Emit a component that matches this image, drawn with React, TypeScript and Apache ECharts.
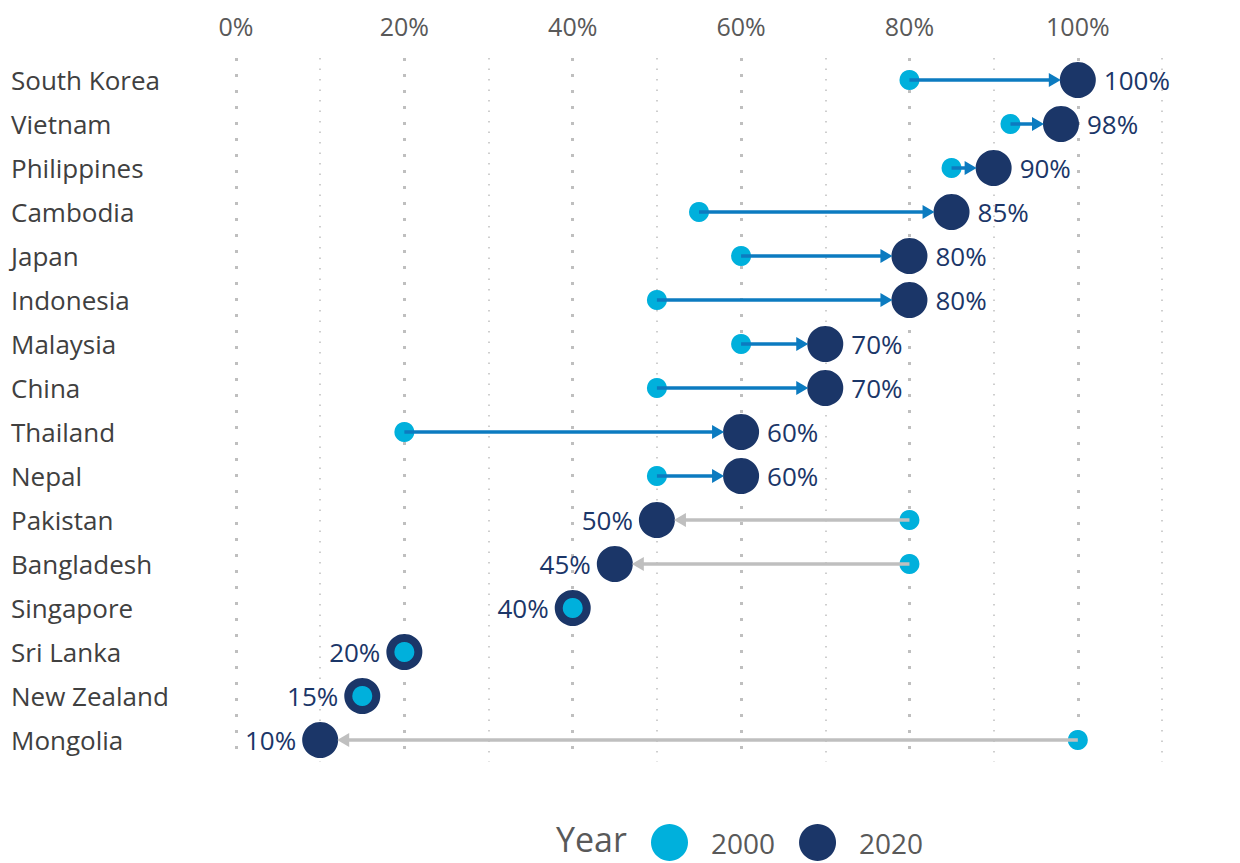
import React, { useEffect, useRef } from "react";
import * as echarts from "echarts";

const countries = [
  "South Korea", "Vietnam", "Philippines", "Cambodia", "Japan", "Indonesia",
  "Malaysia", "China", "Thailand", "Nepal", "Pakistan", "Bangladesh",
  "Singapore", "Sri Lanka", "New Zealand", "Mongolia",
];
const values2000 = [80, 92, 85, 55, 60, 50, 60, 50, 20, 50, 80, 80, 40, 20, 15, 100];
const values2020 = [100, 98, 90, 85, 80, 80, 70, 70, 60, 60, 50, 45, 40, 20, 15, 10];
const xTickLabels = [0, 20, 40, 60, 80, 100];
const years = ["2000", "2020"];

const CYAN = "#00B0DC";
const NAVY = "#1B3668";
const BLUE = "#0C7BC0";
const GRAY = "#BFBFBF";
const FONT = "Open Sans";

export default function App() {
  const ref = useRef<HTMLDivElement>(null);
  useEffect(() => {
    if (!ref.current) return;
    const chart = echarts.init(ref.current, undefined, { renderer: "svg" });
    const option: any = {
      animation: false,
      textStyle: { fontFamily: FONT },
      grid: { left: 236, right: 78, top: 58, height: 704, outerBoundsMode: "none" },
      title: {
        text: "Year",
        left: 556,
        top: 825,
        padding: 0,
        textStyle: {
          fontSize: 34,
          lineHeight: 28,
          fontWeight: "normal",
          color: "#595959",
          fontFamily: FONT,
        },
      },
      legend: {
        data: years,
        left: 651,
        top: 824,
        padding: 0,
        itemWidth: 37,
        itemHeight: 37,
        itemGap: 24,
        selectedMode: false,
        icon: "circle",
        textStyle: {
          fontSize: 28,
          lineHeight: 24,
          color: "#595959",
          fontFamily: FONT,
          padding: [0, 0, 0, 18],
        },
      },
      xAxis: [
        {
          type: "value",
          position: "top",
          min: 0,
          max: 110,
          interval: 10,
          axisLine: { show: false },
          axisTick: { show: false },
          axisLabel: {
            formatter: (v: number) => (xTickLabels.includes(v) ? v + "%" : ""),
            fontSize: 25,
            color: "#595959",
            margin: 20,
            fontFamily: FONT,
          },
          splitLine: {
            show: true,
            lineStyle: { color: [GRAY, "rgba(0,0,0,0)"], width: 3, type: [3, 13] },
          },
        },
        {
          type: "value",
          position: "top",
          min: 0,
          max: 110,
          interval: 10,
          axisLine: { show: false },
          axisTick: { show: false },
          axisLabel: { show: false },
          splitLine: {
            show: true,
            lineStyle: { color: ["rgba(0,0,0,0)", GRAY], width: 1.5, type: [1.5, 9] },
          },
        },
      ],
      yAxis: {
        type: "category",
        data: countries,
        inverse: true,
        axisLine: { show: false },
        axisTick: { show: false },
        splitLine: { show: false },
        axisLabel: { align: "left", margin: 225, fontSize: 26, color: "#404040", fontFamily: FONT },
      },
      series: [
        {
          name: "2020",
          type: "scatter",
          symbol: "circle",
          symbolSize: 36,
          z: 2,
          itemStyle: { color: NAVY, opacity: 1 },
          label: {
            show: true,
            fontSize: 26,
            color: NAVY,
            fontFamily: FONT,
            formatter: (p: any) => p.value[0] + "%",
          },
          data: values2020.map((v, i) => ({
            value: [v, i],
            label: {
              position: v > values2000[i] ? "right" : "left",
              distance: v > values2000[i] ? 8 : 6,
            },
          })),
        },
        {
          name: "2000",
          type: "scatter",
          symbol: "circle",
          symbolSize: 20,
          z: 3,
          itemStyle: { color: CYAN, opacity: 1 },
          data: values2000.map((v, i) => [v, i]),
        },
        {
          name: "arrows",
          type: "custom",
          z: 4,
          silent: true,
          encode: { x: [0, 1], y: 2 },
          data: values2000.map((v, i) => [v, values2020[i], i]),
          renderItem: (_params: any, api: any) => {
            const v0 = api.value(0);
            const v1 = api.value(1);
            const idx = api.value(2);
            if (v0 === v1) return { type: "group", children: [] };
            const p0 = api.coord([v0, idx]);
            const p1 = api.coord([v1, idx]);
            const dir = p1[0] > p0[0] ? 1 : -1;
            const color = dir > 0 ? BLUE : GRAY;
            const tip = p1[0] - dir * 17;
            const base = tip - dir * 12;
            const y = p0[1];
            return {
              type: "group",
              children: [
                {
                  type: "line",
                  shape: { x1: p0[0], y1: y, x2: base + dir * 1, y2: y },
                  style: { stroke: color, lineWidth: 3.5 },
                },
                {
                  type: "polygon",
                  shape: { points: [[tip, y], [base, y - 7], [base, y + 7]] },
                  style: { fill: color },
                },
              ],
            };
          },
        },
      ],
    };
    chart.setOption(option);
    return () => chart.dispose();
  }, []);
  return (
    <div
      ref={ref}
      style={{ position: "absolute", left: 0, top: 0, width: 1240, height: 863, background: "#fff" }}
    />
  );
}
